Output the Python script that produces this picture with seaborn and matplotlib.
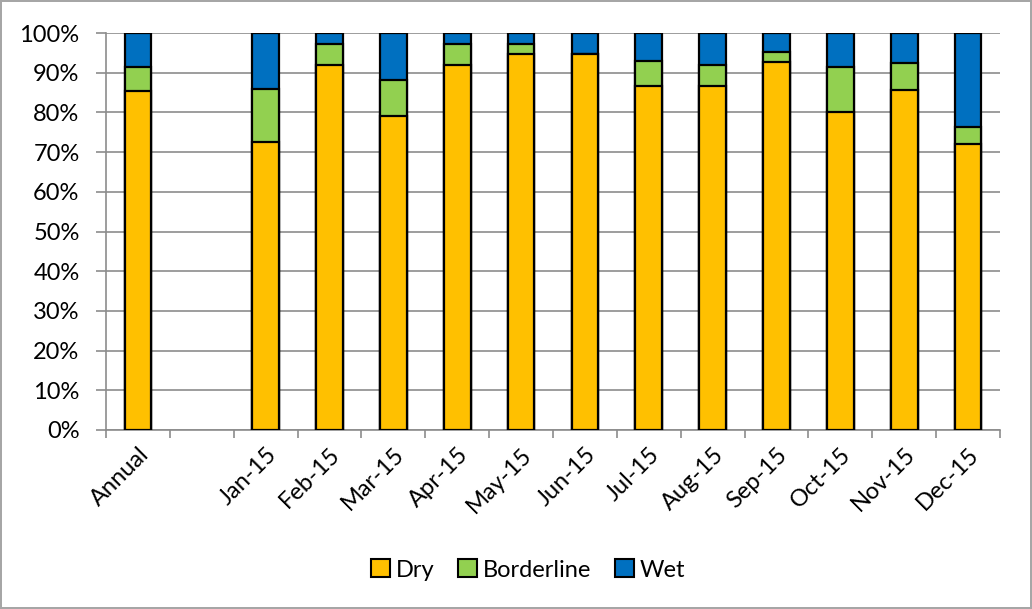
import matplotlib
matplotlib.use("Agg")
import matplotlib.pyplot as plt
import seaborn as sns
import pandas as pd
import numpy as np
from matplotlib.patches import Patch

categories = ["Annual", "", "Jan-15", "Feb-15", "Mar-15", "Apr-15", "May-15", "Jun-15",
              "Jul-15", "Aug-15", "Sep-15", "Oct-15", "Nov-15", "Dec-15"]
dry = [85.5, np.nan, 72.5, 92.0, 79.0, 92.0, 94.6, 94.6, 86.6, 86.6, 92.6, 80.2, 85.6, 72.1]
borderline = [6.0, np.nan, 13.5, 5.3, 9.2, 5.3, 2.7, 0.0, 6.3, 5.4, 2.6, 11.3, 6.9, 4.3]
wet = [8.5, np.nan, 14.0, 2.7, 11.8, 2.7, 2.7, 5.4, 7.1, 8.0, 4.8, 8.5, 7.5, 23.6]

colors = {"Dry": "#FFC000", "Borderline": "#92D050", "Wet": "#0070C0"}

sns.set_theme(style="white")
plt.rcParams["font.family"] = ["Lato", "DejaVu Sans"]
plt.rcParams["text.color"] = "black"
plt.rcParams["xtick.labelcolor"] = "black"
plt.rcParams["ytick.labelcolor"] = "black"

df = pd.DataFrame({"cat": categories, "Dry": dry, "Borderline": borderline, "Wet": wet})
df["c2"] = df["Dry"] + df["Borderline"]
df["c3"] = df["c2"] + df["Wet"]

fig = plt.figure(figsize=(10.32, 6.09), dpi=100)
fig.patch.set_edgecolor("#A6A6A6")
fig.patch.set_linewidth(1.5)
ax = fig.add_axes([106/1032, 1 - 430/609, (1000-106)/1032, (430-33)/609])

for col, name in [("c3", "Wet"), ("c2", "Borderline"), ("Dry", "Dry")]:
    sns.barplot(data=df, x="cat", y=col, order=categories, color=colors[name],
                width=0.42, edgecolor="black", linewidth=1.6, saturation=1, ax=ax, zorder=3)

ax.set_ylim(0, 100)
ax.set_xlim(-0.5, len(categories) - 0.5)
ax.set_yticks(np.arange(0, 101, 10))
ax.set_yticklabels([f"{v}%" for v in range(0, 101, 10)], fontsize=17, color="black")
ax.yaxis.grid(True, color="#8C8C8C", linewidth=1.2, zorder=0)
ax.set_axisbelow(True)
ax.set_xlabel("")
ax.set_ylabel("")

ax.set_xticks(range(len(categories)))
ax.set_xticklabels(categories, rotation=45, ha="right", rotation_mode="anchor", fontsize=17, color="black")
ax.tick_params(axis="x", which="major", length=0, pad=10)
ax.set_xticks(np.arange(-0.5, len(categories), 1), minor=True)
ax.tick_params(axis="x", which="minor", length=6, color="#8C8C8C", width=1.2, direction="out", bottom=True)
ax.tick_params(axis="y", length=7, color="#8C8C8C", width=1.2, left=True, direction="out", pad=12)

for s in ["top", "right"]:
    ax.spines[s].set_visible(False)
for s in ["left", "bottom"]:
    ax.spines[s].set_color("#8C8C8C")
    ax.spines[s].set_linewidth(1.2)

handles = [Patch(facecolor=colors[n], edgecolor="black", linewidth=1.5, label=n)
           for n in ["Dry", "Borderline", "Wet"]]
fig.legend(handles=handles, loc="center", bbox_to_anchor=(0.512, 1 - 570/609), ncol=3,
           frameon=False, fontsize=17, handlelength=0.8, handleheight=0.8,
           handletextpad=0.25, columnspacing=1.0, labelcolor="black")

fig.savefig("out.png", dpi=100)
